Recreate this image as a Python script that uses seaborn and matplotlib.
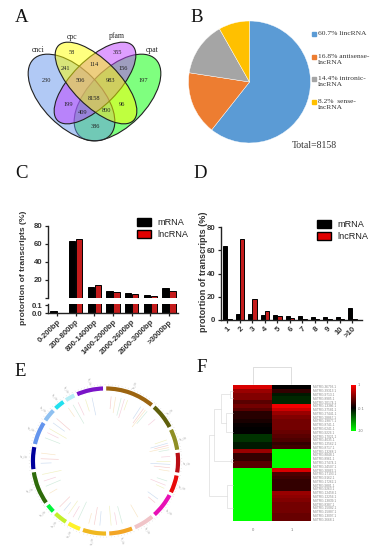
import numpy as np
import pandas as pd
import seaborn as sns
import matplotlib
matplotlib.use('Agg')
import matplotlib.pyplot as plt
from matplotlib.colors import LinearSegmentedColormap, to_rgba
from matplotlib.patches import Ellipse, Patch

sns.set_style('ticks')
plt.rcParams['font.family'] = ['Liberation Sans', 'DejaVu Sans']

W, H = 387, 550

# A - venn
venn_names = ['cnci', 'cpc', 'pfam', 'cpat']
venn_counts = [230, 58, 241, 355, 114, 156, 197, 506, 983, 199, 8158, 96, 409, 800, 386]
venn_text_xy = [(46, 81), (72, 52), (66, 68), (117, 52), (94, 65), (123, 68), (143, 81), (80, 81),
                (110, 81), (68, 105), (94, 98), (122, 105), (83, 112), (106, 111), (95, 126)]

# B - pie
pie_values = [60.7, 16.8, 14.4, 8.2]
pie_colors = ['#5B9BD5', '#ED7D31', '#A5A5A5', '#FFC000']
pie_labels = ['60.7% lincRNA', '16.8% antisense-\nlncRNA', '14.4% intronic-\nlncRNA', '8.2%  sense-\nlncRNA']

# C - length
len_bins = ['0-200bp', '200-800bp', '800-1400bp', '1400-2000bp', '2000-2600bp', '2600-3000bp', '>3000bp']
len_mrna = [0.03, 63, 12.5, 7.5, 5.5, 3, 11]
len_lnc = [0, 66, 15, 7, 4, 2.2, 8]

# D - exons
exon_bins = ['1', '2', '3', '4', '5', '6', '7', '8', '9', '10', '>10']
exon_mrna = [63.5, 5, 5, 4.5, 4, 3.5, 3, 2.3, 2, 2, 10.5]
exon_lnc = [0.3, 70, 18, 7.5, 3, 1.8, 1, 0.7, 0.5, 0.5, 0.3]

# E - circos
chrom_sizes = [41.5, 22.5, 19, 18, 16.5, 22, 18.5, 21, 21, 12.5, 13, 9, 28.5, 20, 20.5, 12.5, 10.5, 10, 23.5]
chrom_colors = ['#9C6410', '#5F5F0C', '#8F8F25', '#B80C14', '#E80A0A', '#E80FB5', '#F0C4C8', '#F3A525',
                '#F0B820', '#FFF22A', '#C3F02A', '#00F53A', '#2E6B0A', '#00009C', '#6495ED', '#8FC0F0',
                '#22E0EE', '#B5EEF5', '#7A14C8']
link_angles = [5, 9, 14, 17, 20, 33, 36, 38, 40, 50, 71, 74, 76, 78, 80, 86, 90, 93, 96, 99, 108, 112, 115, 126, 130,
               150, 165, 170, 175, 185, 190, 195, 205, 210, 215, 220, 225, 240, 247, 252, 258, 268, 272, 277, 291,
               296, 300, 306, 311, 325, 330, 335, 342, 348]
link_len = [.14, .18, .2, .22, .12, .16, .2, .24, .18, .1, .14, .2, .16, .22, .12, .1, .16, .22, .18, .12, .12, .18,
            .1, .14, .1, .16, .2, .14, .22, .16, .2, .12, .22, .14, .18, .12, .16, .1, .18, .14, .22, .12, .2, .16,
            .18, .14, .22, .16, .2, .12, .24, .16, .14, .2]
link_colors = ['#F5CCCC', '#F8E5C5', '#D0EBDC', '#F5D0DC', '#F0F0C0', '#CCDCF0']

# F - heatmap
row_names = ['MSTRG.%d.1' % n for n in
             [36793, 39313, 9713, 8985, 20174, 13386, 37581, 27441, 28867, 19877, 8741, 6241, 9226, 17021, 4035,
              12562, 8717, 13268, 8848, 8961, 27474, 24507, 30862, 17193, 9162, 17262, 9881, 9263, 12458, 12256,
              13839, 8387, 15082, 15887, 13097, 2668]]
col_names = ['0', '1']
heat_col0 = [.85, .6, .5, .5, .35, .45, .35, .15, .15, .1, .03, 0, 0, -.2, -.2, -.1, -.1, .6, .2, .2, .35, .35,
             -1, -1, -1, -1, -1, -1, -1, -1, -1, -1, -1, -1, -1, -1]
heat_col1 = [0, .2, -.1, -.15, -.15, .95, .8, .6, .5, .45, .45, .45, .4, .35, .3, .2, .25, -1, -1, -1, -1, -1,
             .85, .3, .25, .2, .2, .2, .6, .55, .5, .45, .45, .45, .4, .4]
cbar_labels = ['1', '-0.1', '-10']
# merge heights in px, leaves are row positions
row_tree = (24, (19, (12.3, (3.3, 1, 3), (7.7, 7, 12)), (2.5, 19, 20)), (6, 26, 32))

fig = plt.figure(figsize=(W / 100, H / 100), dpi=100)


def px_axes(x0, y0, x1, y1, **kw):
    return fig.add_axes([x0 / W, 1 - y1 / H, (x1 - x0) / W, (y1 - y0) / H], **kw)


# page overlay in pixel coordinates
page = px_axes(0, 0, W, H)
page.set_xlim(0, W)
page.set_ylim(H, 0)
page.axis('off')
page.set_zorder(10)
serif = ['Liberation Serif', 'DejaVu Serif']
for t, x, y in [('A', 22, 18), ('B', 197, 17), ('C', 22, 174), ('D', 200, 174), ('E', 20, 372), ('F', 202, 368)]:
    page.text(x, y, t, family=serif, fontsize=13.5, ha='center', va='center', color='#111111')

# A, same stacking as the reference: green, blue, purple, yellow
for c, xy, wh, ang in [('#00FF00', (117.5, 97.5), (108, 58), -45), ('#6495ED', (71.5, 97.5), (108, 58), 45),
                       ('#BF3EFF', (95, 83), (106, 46), -45), ('#FFFF00', (96, 83), (106, 46), 45)]:
    page.add_patch(Ellipse(xy, wh[0], wh[1], angle=ang, fc=to_rgba(c, .5), ec='#222222', lw=.8))
for n, (x, y) in zip(venn_counts, venn_text_xy):
    page.text(x, y, str(n), family=serif, fontsize=4.6, ha='center', va='center', color='#222222')
for n, (x, y) in zip(venn_names, [(38, 50), (72, 37), (117, 36), (152, 50)]):
    page.text(x, y, n, family=serif, fontsize=5.5, ha='center', va='center', color='#222222')

# B
ax_pie = px_axes(249.5 - 61, 82 - 61, 249.5 + 61, 82 + 61)
ax_pie.pie(pie_values, colors=pie_colors, startangle=90, counterclock=False, radius=1,
           wedgeprops={'edgecolor': 'white', 'linewidth': .3})
ax_pie.set_xlim(-1, 1)
ax_pie.set_ylim(-1, 1)
for lab, c, y in zip(pie_labels, pie_colors, [34, 57, 79, 102]):
    page.plot([314], [y], 's', ms=2.2, color=c)
    page.text(318, y - 3, lab, family=serif, fontsize=5.4, va='top', linespacing=1.2, color='#333333')
page.text(292, 145, 'Total=8158', family=serif, fontsize=7, va='center', color='#333333')


def bars(ax, cats, mrna, lnc, width, gap):
    d = pd.DataFrame({'cat': cats * 2, 'val': mrna + lnc, 'kind': ['mRNA'] * len(cats) + ['lncRNA'] * len(cats)})
    sns.barplot(d, x='cat', y='val', hue='kind', order=cats, palette=['black', '#E00000'], width=width, gap=gap,
                edgecolor='black', linewidth=.7, legend=False, ax=ax)
    ax.set_xlabel('')
    ax.set_ylabel('')


def legend_for(x, y):
    handles = [Patch(fc='black', ec='black', label='mRNA'), Patch(fc='#E00000', ec='black', label='lncRNA')]
    leg = page.legend(handles=handles, frameon=False, loc='upper left', bbox_to_anchor=(x, y),
                      bbox_transform=page.transData, fontsize=6.6, handlelength=1.55, handleheight=1,
                      handletextpad=.65, labelspacing=.3, borderpad=0, borderaxespad=0, labelcolor='#222222')
    page.add_artist(leg)
    page.legend_ = None


# C
c_top = px_axes(48.3, 226, 178.3, 298)
bars(c_top, len_bins, len_mrna, len_lnc, .75, .1)
c_top.set_xlim(-.47, 6.5)
c_top.set_ylim(0, 80)
c_top.set_yticks([0, 20, 40, 60, 80], ['', '20', '40', '60', '80'])
c_top.set_xticks([])
sns.despine(ax=c_top, bottom=True)

c_low = px_axes(48.3, 304, 178.3, 313)
bars(c_low, len_bins, len_mrna, len_lnc, .75, .1)
c_low.set_xlim(-.47, 6.5)
c_low.set_ylim(0, .1125)
c_low.set_yticks([0, .1], ['0.0', '0.1'])
c_low.set_xticks(range(len(len_bins)))
c_low.set_xticklabels(len_bins, rotation=45, ha='right', rotation_mode='anchor')
sns.despine(ax=c_low)

# D
d_ax = px_axes(220.7, 227.3, 361.7, 319.7)
bars(d_ax, exon_bins, exon_mrna, exon_lnc, .69, .05)
d_ax.set_xlim(-.53, 10.75)
d_ax.set_ylim(0, 80)
d_ax.set_yticks([0, 20, 40, 60, 80])
d_ax.set_xticks(range(len(exon_bins)))
d_ax.set_xticklabels(exon_bins, rotation=45, ha='right', rotation_mode='anchor')
sns.despine(ax=d_ax)

for ax in (c_top, c_low, d_ax):
    for s in ax.spines.values():
        s.set_linewidth(1)
        s.set_color('#222222')
    ax.tick_params(length=2.5, width=.9, pad=1.5, color='#222222')
    for lab in ax.get_xticklabels() + ax.get_yticklabels():
        lab.set_fontsize(5.6)
        lab.set_fontweight('bold')
        lab.set_color('#333333')
page.text(24, 268, 'protortion of transcripts (%)', rotation=90, fontsize=6.1, fontweight='bold', ha='center',
          va='center', color='#333333')
page.text(203, 272, 'protortion of transcripts (%)', rotation=90, fontsize=6.5, fontweight='bold', ha='center',
          va='center', color='#333333')
legend_for(137, 218)
legend_for(317, 220)

# E
ax_e = px_axes(105.5 - 90, 461 - 90, 105.5 + 90, 461 + 90, projection='polar')
ax_e.set_theta_zero_location('N')
ax_e.set_theta_direction(-1)
ax_e.axis('off')
ax_e.set_ylim(0, 1)
sizes = np.array(chrom_sizes)
sizes = sizes / sizes.sum() * 360
starts = np.concatenate([[0], np.cumsum(sizes)[:-1]])
ax_e.bar(np.radians(starts), .062, width=np.radians(sizes - 1.4), bottom=.775, align='edge', color=chrom_colors)
for s, w, c in zip(starts, sizes, chrom_colors):
    ticks = np.radians(np.arange(s, s + w - 1, 2.5))
    ax_e.vlines(ticks, .84, .852, color='#CCCCCC', lw=.25)
    mid = s + w / 2
    rot = 90 - mid if mid < 180 else 270 - mid
    ax_e.text(np.radians(mid), .905, 'lnc_chr', fontsize=1.8, color='#AAAAAA', rotation=rot, rotation_mode='anchor',
              ha='center', va='center')
for i, (a, l) in enumerate(zip(link_angles, link_len)):
    ax_e.vlines(np.radians(a), .72 - l, .72, color=link_colors[i % len(link_colors)], lw=.45)

# F
heat = pd.DataFrame({'0': heat_col0, '1': heat_col1}, index=row_names)
cmap = LinearSegmentedColormap.from_list('gbr', ['#00FF00', '#000000', '#FF0000'])
ax_h = px_axes(233.3, 385, 310.7, 521)
ax_cb = px_axes(351, 385, 356, 431)
sns.heatmap(heat, cmap=cmap, vmin=-1, vmax=1, ax=ax_h, cbar_ax=ax_cb, xticklabels=col_names, yticklabels=row_names)
ax_h.yaxis.tick_right()
ax_h.tick_params(length=0, pad=2)
ax_h.tick_params(axis='y', labelsize=2.3, labelcolor='#888888', labelrotation=0, pad=1.5)
ax_h.tick_params(axis='x', labelsize=3, labelcolor='#777777', pad=5)
ax_cb.set_yticks([1, 0, -1], cbar_labels)
ax_cb.tick_params(length=0, labelsize=2.8, labelcolor='#777777', pad=1.5)


def dendro(node):
    if not isinstance(node, tuple):
        return 233.3, 385 + (node + .5) * 136 / 36
    h, a, b = node
    xa, ya = dendro(a)
    xb, yb = dendro(b)
    x = 233.3 - h
    page.plot([xa, x, x, xb], [ya, ya, yb, yb], color='#D5D5D5', lw=.4)
    return x, (ya + yb) / 2


dendro(row_tree)
page.plot([252.6, 252.6, 291.3, 291.3], [384, 367, 367, 384], color='#C5C5C5', lw=.4)

fig.savefig('out.png', dpi=100)
